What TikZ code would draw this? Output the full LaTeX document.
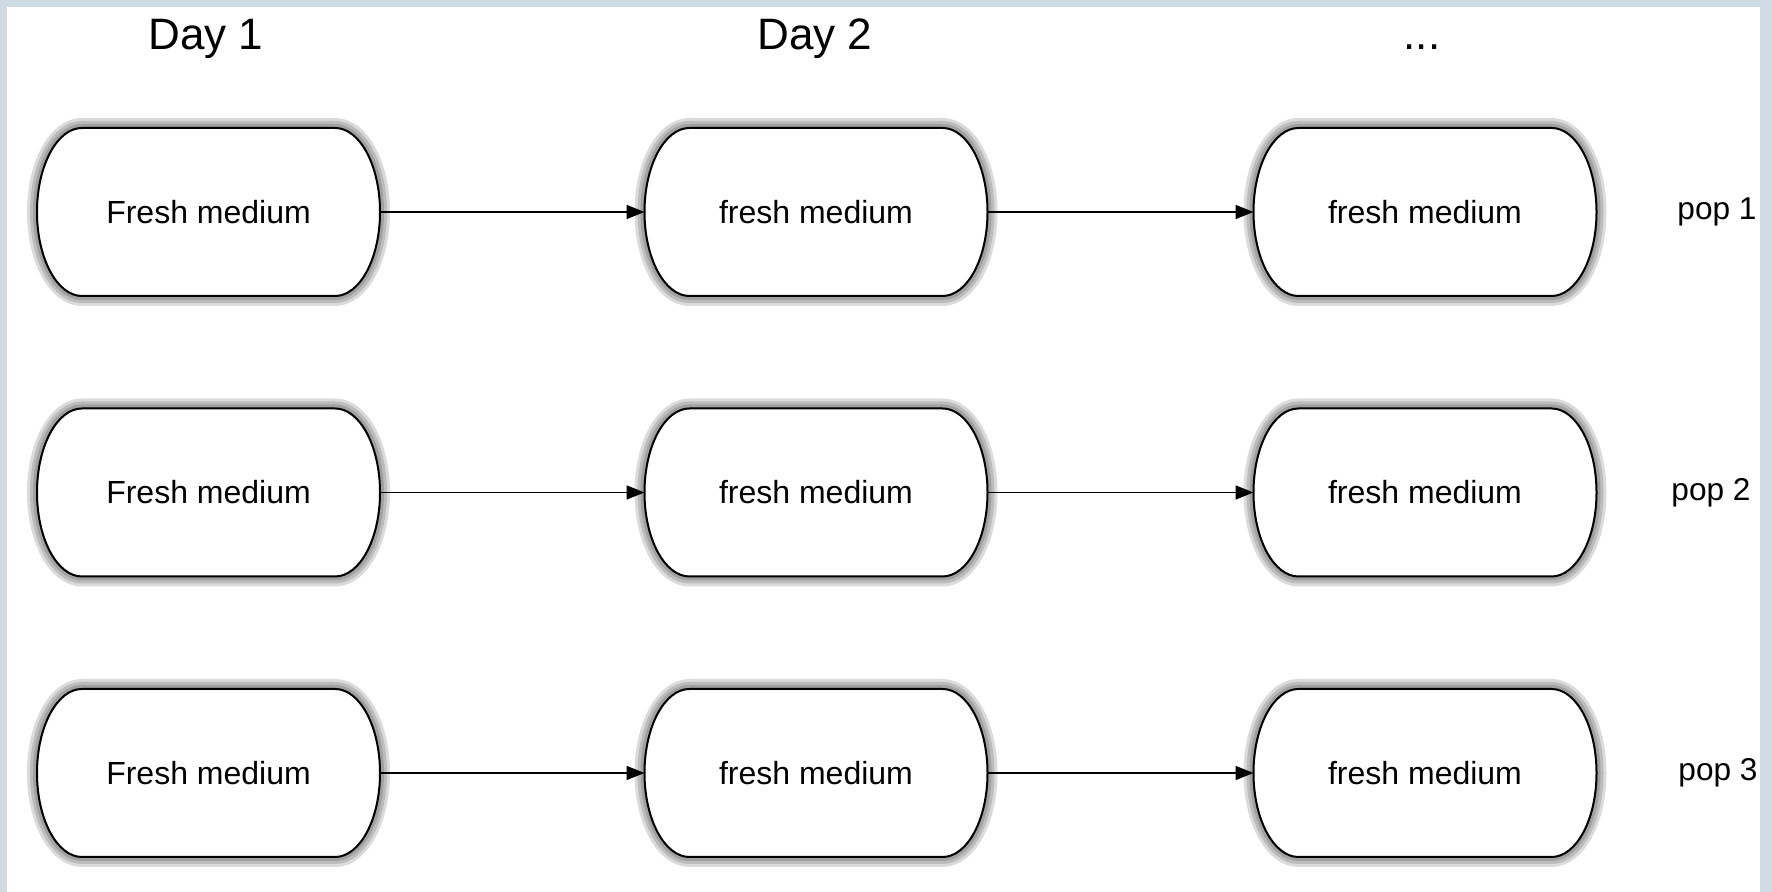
\documentclass[tikz,border=0pt]{standalone}
\usepackage{fontspec}
\setmainfont{Liberation Sans}
\usetikzlibrary{arrows.meta}
\definecolor{framegray}{RGB}{207,219,226}
\newlength\crx \setlength\crx{22.5pt}
\newlength\cry \setlength\cry{42pt}
\newcommand\capsulepath[1]{([xshift=\crx]#1.north west) -- ([xshift=-\crx]#1.north east)
  arc[start angle=90,end angle=-90,x radius=\crx,y radius=\cry] -- ([xshift=\crx]#1.south west)
  arc[start angle=270,end angle=90,x radius=\crx,y radius=\cry] -- cycle}
\newcommand\capsule[1]{%
  \begin{scope}[shift={(1pt,-6pt)}]
    \foreach \w in {10pt,7pt,4pt,1pt}{\draw[black,opacity=0.14,line width=\w,fill=black] \capsulepath{#1};}
  \end{scope}
  \draw[boxline] \capsulepath{#1};}
\tikzset{
  box/.style={rectangle,draw=none,inner sep=0pt,outer sep=0pt,minimum width=171.5pt,minimum height=84pt,font=\fontsize{16}{19}\selectfont},
  boxline/.style={draw=black,line width=1pt,fill=white},
  daylabel/.style={anchor=base,font=\fontsize{22}{26}\selectfont},
  poplabel/.style={font=\fontsize{15.8}{19}\selectfont},
  conn/.style={draw=black,line width=0.8pt,-{Triangle[length=9pt,width=7pt]}}
}
\begin{document}
\begin{tikzpicture}[x=0.5pt,y=0.5pt]
\useasboundingbox (0,0) rectangle (1772,892);
\fill[framegray] (0,0) rectangle (1772,892);
\fill[white] (7,0) rectangle (1760,885);
\node[daylabel] (d1) at (206,842) {Day 1};
\node[daylabel] (d2) at (815,842) {Day 2};
\node[daylabel] (d3) at (1422,842) {...};
\foreach \r/\y in {1/680,2/399.5,3/119}{
  \node[box] (a\r) at (208.5,\y) {};
  \node[box] (b\r) at (816,\y) {};
  \node[box] (c\r) at (1425,\y) {};
}
\foreach \r in {1,2,3}{\capsule{a\r}\capsule{b\r}\capsule{c\r}}
\foreach \r in {1,2,3}{
  \node[box] (ta\r) at (a\r) {Fresh medium};
  \node[box] (tb\r) at (b\r) {fresh medium};
  \node[box] (tc\r) at (c\r) {fresh medium};
}
\node[poplabel] (p1) at (1717,680) {pop 1};
\node[poplabel] (p2) at (1711,399.5) {pop 2};
\node[poplabel] (p3) at (1718,119) {pop 3};
\foreach \r in {1,2,3}{
  \draw[conn] (a\r.east) -- (b\r.west);
  \draw[conn] (b\r.east) -- (c\r.west);
}
\end{tikzpicture}
\end{document}
